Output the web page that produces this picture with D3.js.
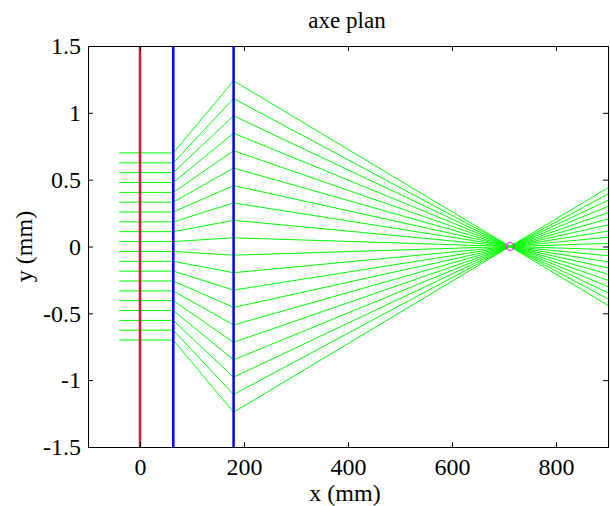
<!DOCTYPE html>
<html>
<head>
<meta charset="utf-8">
<script src="https://cdn.jsdelivr.net/npm/d3@7"></script>
<style>
  html, body { margin: 0; padding: 0; background: #fff; }
  svg text { font-family: "Liberation Serif", "Times New Roman", serif; fill: #000; }
</style>
</head>
<body>
<svg id="chart" width="610" height="506"></svg>
<script>
// ---- data ----
const titleText = "axe plan";
const xLabelText = "x (mm)";
const yLabelText = "y (mm)";
const xDomain = [-100, 900];
const yDomain = [-1.5, 1.5];
const xTicks = [0, 200, 400, 600, 800];
const yTicks = [-1.5, -1, -0.5, 0, 0.5, 1, 1.5];
const yTickLabels = ["-1.5", "-1", "-0.5", "0", "0.5", "1", "1.5"];

const redLineX = [0];
const blueLinesX = [64, 180];

// ray planes (x positions, mm)
const rayPlanesX = [-40, 64, 180, 900];
// ray heights at each plane (mm)
const rayYStart = [0.700, 0.626, 0.553, 0.479, 0.405, 0.332, 0.258, 0.184, 0.111, 0.037,
                   -0.037, -0.111, -0.184, -0.258, -0.332, -0.405, -0.479, -0.553, -0.626, -0.700];
const rayYLens1 = [0.700, 0.626, 0.553, 0.479, 0.405, 0.332, 0.258, 0.184, 0.111, 0.037,
                   -0.037, -0.111, -0.184, -0.258, -0.332, -0.405, -0.479, -0.553, -0.626, -0.700];
const rayYLens2 = [1.240, 1.107, 0.978, 0.848, 0.717, 0.587, 0.456, 0.326, 0.196, 0.065,
                   -0.065, -0.196, -0.326, -0.456, -0.587, -0.717, -0.848, -0.978, -1.107, -1.240];
const rayYEnd   = [-0.440, -0.392, -0.346, -0.300, -0.253, -0.207, -0.161, -0.115, -0.069, -0.023,
                   0.023, 0.069, 0.115, 0.161, 0.207, 0.253, 0.300, 0.346, 0.392, 0.440];

const focusPoint = [{x: 712, y: 0}];

// ---- layout ----
const svg = d3.select("#chart");
const L = 88, R = 608, T = 46, B = 447;
const x = d3.scaleLinear().domain(xDomain).range([L, R]);
const y = d3.scaleLinear().domain(yDomain).range([B, T]);

svg.append("defs").append("clipPath").attr("id", "clip")
  .append("rect").attr("x", L).attr("y", T).attr("width", R - L).attr("height", B - T);

const plot = svg.append("g").attr("clip-path", "url(#clip)");

// rays
const rays = rayYStart.map((v, i) => [
  [rayPlanesX[0], rayYStart[i]],
  [rayPlanesX[1], rayYLens1[i]],
  [rayPlanesX[2], rayYLens2[i]],
  [rayPlanesX[3], rayYEnd[i]]
]);
const line = d3.line().x(d => x(d[0])).y(d => y(d[1]));
plot.selectAll("path.ray").data(rays).enter().append("path")
  .attr("class", "ray")
  .attr("d", line)
  .attr("fill", "none")
  .attr("stroke", "#00ff00")
  .attr("stroke-width", 1);

// red line
plot.selectAll("line.red").data(redLineX).enter().append("line")
  .attr("x1", d => x(d)).attr("x2", d => x(d))
  .attr("y1", y(yDomain[0])).attr("y2", y(yDomain[1]))
  .attr("stroke", "#dc143c").attr("stroke-width", 2.5);

// blue lines
plot.selectAll("line.blue").data(blueLinesX).enter().append("line")
  .attr("x1", d => x(d)).attr("x2", d => x(d))
  .attr("y1", y(yDomain[0])).attr("y2", y(yDomain[1]))
  .attr("stroke", "#0000ff").attr("stroke-width", 2.5);

// focus marker
plot.selectAll("circle.focus").data(focusPoint).enter().append("circle")
  .attr("cx", d => x(d.x)).attr("cy", d => y(d.y)).attr("r", 4)
  .attr("fill", "none").attr("stroke", "#ff00ff").attr("stroke-width", 1);

// axes (MATLAB style box, inward ticks)
const tickLen = 5;
const fontSize = 24;
const axB = svg.append("g").attr("transform", `translate(0,${B})`)
  .call(d3.axisBottom(x).tickValues(xTicks).tickSize(-tickLen).tickPadding(11).tickFormat(d3.format("d")));
const axT = svg.append("g").attr("transform", `translate(0,${T})`)
  .call(d3.axisTop(x).tickValues(xTicks).tickSize(-tickLen).tickFormat(""));
const axL = svg.append("g").attr("transform", `translate(${L},0)`)
  .call(d3.axisLeft(y).tickValues(yTicks).tickSize(-tickLen).tickPadding(7)
    .tickFormat((d, i) => yTickLabels[i]));
const axR = svg.append("g").attr("transform", `translate(${R},0)`)
  .call(d3.axisRight(y).tickValues(yTicks).tickSize(-tickLen).tickFormat(""));

[axB, axT, axL, axR].forEach(a => {
  a.selectAll(".domain").attr("stroke", "#000").attr("stroke-width", 1);
  a.selectAll(".tick line").attr("stroke", "#000");
  a.selectAll("text").attr("font-family", "'Liberation Serif', 'Times New Roman', serif")
    .attr("font-size", fontSize).attr("fill", "#000");
});

// title and labels
svg.append("text").attr("x", 347).attr("y", 28).attr("text-anchor", "middle")
  .attr("font-size", 23).text(titleText);
svg.append("text").attr("x", 345).attr("y", 501).attr("text-anchor", "middle")
  .attr("font-size", fontSize).text(xLabelText);
svg.append("text").attr("transform", `translate(32,${(T + B) / 2}) rotate(-90)`)
  .attr("text-anchor", "middle").attr("font-size", fontSize).text(yLabelText);
</script>
</body>
</html>
